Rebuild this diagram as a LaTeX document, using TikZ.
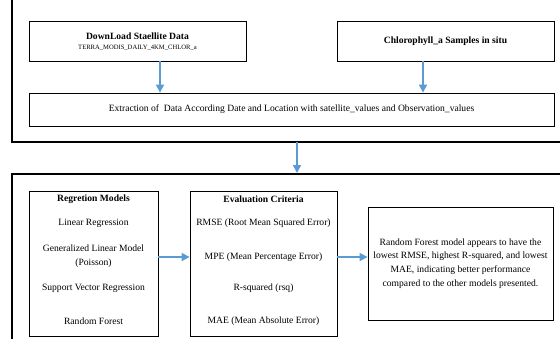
\documentclass[tikz,border=0pt]{standalone}
\usepackage{fontspec}
\setmainfont{Liberation Serif}
\usetikzlibrary{arrows.meta}
\definecolor{flowblue}{RGB}{91,155,213}
\tikzset{
  box/.style={draw, line width=0.8pt, inner sep=0pt, align=center, font=\fontsize{9.6}{12}\selectfont},
  frame/.style={draw, line width=1.8pt},
  flow/.style={draw=flowblue, line width=1.6pt, -{Triangle[length=8pt,width=8pt]}}
}
\begin{document}
\begin{tikzpicture}[x=1pt,y=-1pt]
\useasboundingbox (0,0) rectangle (560,338);
\clip (0,0) rectangle (560,338);
% outer frames
\draw[frame] (12,-20) rectangle (580,142);
\draw[frame] (12,174) rectangle (580,370);
\coordinate (top) at (297,142);
\coordinate (bottom) at (297,173);
% first stage
\node[box, minimum width=217pt, minimum height=40pt] (sat) at (137.5,41) {};
\node[font=\bfseries\fontsize{9.6}{12}\selectfont] (sattitle) at (137.5,36) {DownLoad Staellite Data};
\node[font=\fontsize{6.6}{8}\selectfont] (satname) at (137.5,47.5) {TERRA\_MODIS\_DAILY\_4KM\_CHLOR\_a};
\node[box, minimum width=217pt, minimum height=40pt, font=\bfseries\fontsize{9.6}{12}\selectfont] (chl) at (445.5,41) {Chlorophyll\_a Samples in situ};
\node[box, minimum width=525pt, minimum height=33pt] (ext) at (291.5,109.5) {Extraction of\ \ Data According Date and Location with satellite\_values and Observation\_values};
\draw[flow] (sat.south -| 160,0) -- (ext.north -| 160,0);
\draw[flow] (chl.south -| 423,0) -- (ext.north -| 423,0);
\draw[flow] (top) -- (bottom);
% second stage
\node[box, minimum width=129pt, minimum height=145pt] (reg) at (93.5,263.5) {};
\node[font=\bfseries\fontsize{9.6}{12}\selectfont] (regtitle) at (93.5,199) {Regretion Models};
\node[font=\fontsize{9.6}{12}\selectfont] (lr) at (93.5,223) {Linear Regression};
\node[font=\fontsize{9.6}{14}\selectfont, align=center] (glm) at (93.5,256) {Generalized Linear Model\\(Poisson)};
\node[font=\fontsize{9.6}{12}\selectfont] (svr) at (93.5,288) {Support Vector Regression};
\node[font=\fontsize{9.6}{12}\selectfont] (rf) at (93.5,321) {Random Forest};
\node[box, minimum width=147pt, minimum height=145pt] (eval) at (263.5,263.5) {};
\node[font=\bfseries\fontsize{9.6}{12}\selectfont] (evaltitle) at (263.5,199) {Evaluation Criteria};
\node[font=\fontsize{9.6}{12}\selectfont] (rmse) at (263.5,223) {RMSE (Root Mean Squared Error)};
\node[font=\fontsize{9.6}{12}\selectfont] (mpe) at (263.5,257) {MPE (Mean Percentage Error)};
\node[font=\fontsize{9.6}{12}\selectfont] (rsq) at (263.5,288) {R-squared (rsq)};
\node[font=\fontsize{9.6}{12}\selectfont] (mae) at (263.5,321) {MAE (Mean Absolute Error)};
\node[box, minimum width=185pt, minimum height=113pt, font=\fontsize{9.6}{13.7}\selectfont] (res) at (460.5,263.5) {Random Forest model appears to have the\\lowest RMSE, highest R-squared, and lowest\\MAE, indicating better performance\\compared to the other models presented.};
\draw[flow] (reg.east |- 0,257) -- (eval.west |- 0,257);
\draw[flow] (eval.east |- 0,257) -- (res.west |- 0,257);
\end{tikzpicture}
\end{document}
